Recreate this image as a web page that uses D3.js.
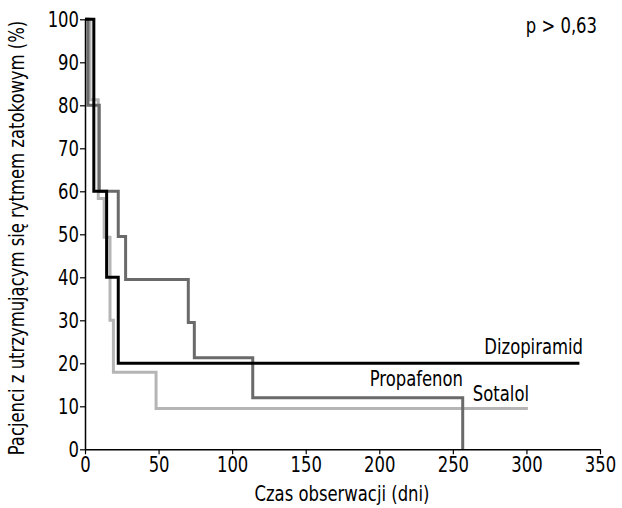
<!DOCTYPE html>
<html><head><meta charset="utf-8">
<script src="https://cdn.jsdelivr.net/npm/d3@7"></script>
<style>
body{margin:0;background:#fff;}
text{font-family:"Liberation Sans Narrow","DejaVu Sans Condensed","Liberation Sans",sans-serif;}
</style></head>
<body>
<svg id="c" width="622" height="508"></svg>
<script>
// Kaplan-Meier steps: [day, percent]
const dizopiramid = [[0,100],[6,60],[14.7,40],[22.6,20],[336,20]];
const propafenon  = [[0,100],[2,80],[9.7,60],[22.6,49.5],[27.6,39.5],[70.2,29.5],[74.3,21.3],[114,12],[256.7,0]];
const sotalol     = [[0,100],[3.4,81.3],[9,58.3],[13,49.3],[17,30],[19.3,17.9],[48.3,9.5],[301,9.5]];
const xTicks = [0,50,100,150,200,250,300,350];
const yTicks = [0,10,20,30,40,50,60,70,80,90,100];
const seriesNames = ["Dizopiramid","Propafenon","Sotalol"];

const FS = 21, SX = 0.87;
const svg = d3.select("#c");
const x = d3.scaleLinear().domain([0,350]).range([85,600]);
const y = d3.scaleLinear().domain([0,100]).range([449.3,19.3]);

const series = [
  {name:seriesNames[0], data:dizopiramid, color:"#000000", lx:583, ly:354},
  {name:seriesNames[1], data:propafenon, color:"#6a6a6a", lx:463, ly:386},
  {name:seriesNames[2], data:sotalol, color:"#b5b5b5", lx:529, ly:401}
];
const line = d3.line().x(d=>x(d[0])).y(d=>y(d[1])).curve(d3.curveStepAfter);

[series[2],series[1],series[0]].forEach(s=>{
  svg.append("path").attr("d",line(s.data)).attr("fill","none")
    .attr("stroke",s.color).attr("stroke-width",3).attr("stroke-linejoin","miter");
});

const xa = svg.append("g").attr("transform","translate(0,449.3)")
  .call(d3.axisBottom(x).tickValues(xTicks).tickSize(5).tickSizeOuter(0).tickPadding(3));
const ya = svg.append("g").attr("transform","translate(85,0)")
  .call(d3.axisLeft(y).tickValues(yTicks).tickSize(5).tickSizeOuter(0).tickPadding(1));
[xa,ya].forEach(a=>{
  a.attr("font-family",null).attr("font-size",null);
  a.select(".domain").attr("stroke","#000").attr("stroke-width",1.5);
  a.selectAll(".tick line").attr("stroke","#000").attr("stroke-width",1.2);
  a.selectAll(".tick text").each(function(){
    const t = d3.select(this);
    const tx = +t.attr("x")||0, ty = +t.attr("y")||0;
    t.attr("x",0).attr("y",0).attr("transform",`translate(${tx},${ty}) scale(${SX},1)`)
     .attr("font-size",FS).attr("fill","#000");
  });
});

function label(tx,ty,anchor,str,rot){
  svg.append("text").attr("transform",`translate(${tx},${ty})${rot?" rotate(-90)":""} scale(${SX},1)`)
    .attr("text-anchor",anchor).attr("font-size",FS).attr("fill","#000").text(str);
}
series.forEach(s=>label(s.lx,s.ly,"end",s.name));
label(597,33,"end","p > 0,63");
label(342,501,"middle","Czas obserwacji (dni)");
label(24,238,"middle","Pacjenci z utrzymującym się rytmem zatokowym (%)",true);
</script>
</body></html>
